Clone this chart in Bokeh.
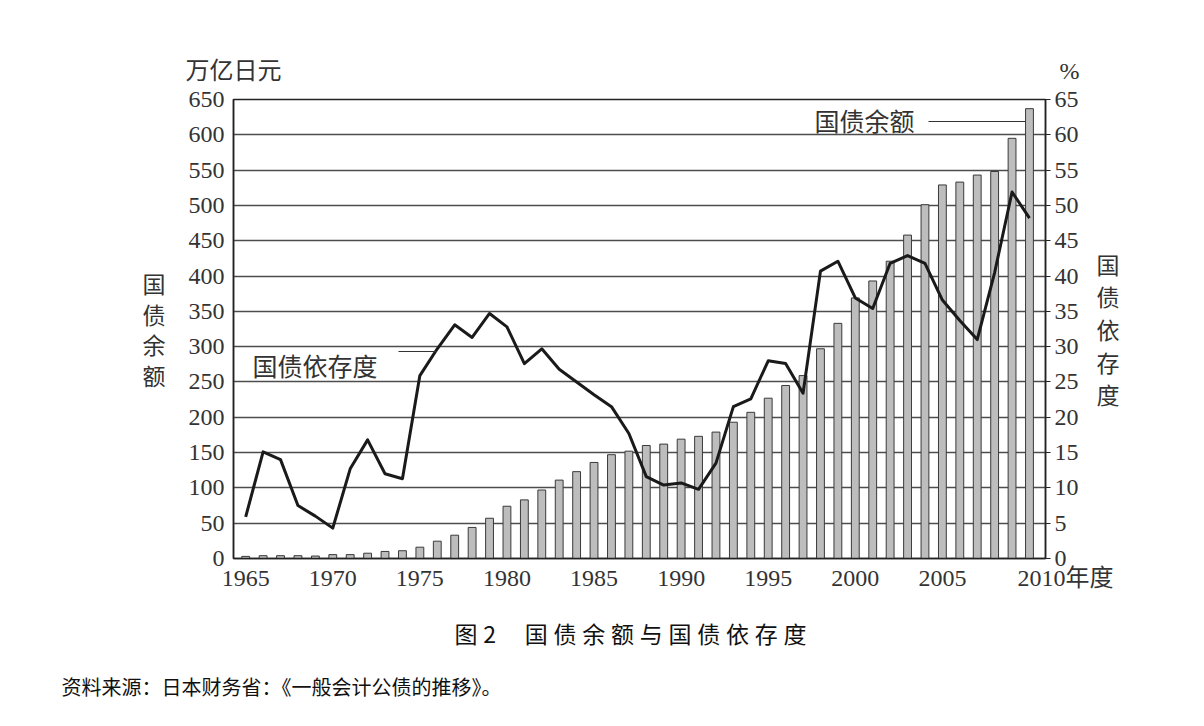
from bokeh.plotting import figure
from bokeh.models import Range1d, LinearAxis, FixedTicker, Label, Title
from bokeh.embed import file_html
from bokeh.resources import INLINE

# ---------------- data ----------------
years = list(range(1965, 2011))
debt_outstanding = [  # 国债余额 (万亿日元)
    3, 4, 4, 4, 3.5, 5.5, 5.5, 7.5, 10, 11,
    16, 24.5, 33, 44, 57, 74, 83, 97, 111, 123,
    136, 147, 152, 160, 162, 169, 173, 179, 193, 207,
    227, 245, 259, 297, 333, 369, 393, 421, 458, 501,
    529, 533, 543, 548, 595, 637,
]
dependency_ratio = [  # 国债依存度 (%)
    5.9, 15.1, 14.0, 7.5, 6.0, 4.3, 12.7, 16.8, 12.0, 11.3,
    25.9, 29.7, 33.1, 31.3, 34.7, 32.8, 27.6, 29.7, 26.8, 25.0,
    23.2, 21.5, 17.7, 11.6, 10.4, 10.7, 9.8, 13.5, 21.5, 22.6,
    28.0, 27.6, 23.4, 40.7, 42.1, 36.9, 35.4, 41.8, 42.9, 41.8,
    36.6, 33.7, 31.0, 40.5, 51.9, 48.2,
]
left_ticks = list(range(0, 651, 50))
right_ticks = list(range(0, 66, 5))
x_ticks = list(range(1965, 2011, 5))

left_unit = "万亿日元"
right_unit = "%"
x_unit = "年度"
left_title = "国债余额"
right_title = "国债依存度"
caption_fig = "图"
caption_num = "2"
caption_text = "国债余额与国债依存度"
source_text = "资料来源：日本财务省：《一般会计公债的推移》。"

# ---------------- geometry helpers ----------------
W, H = 1204, 726
FL, FR, FT, FB = 233, 1045, 99, 558
X0, X1 = 1964.3, 2010.92
Y0, Y1 = 0, 650


def dx(px):
    return X0 + (px - FL) * (X1 - X0) / (FR - FL)


def dy(py):
    return Y0 + (FB - py) * (Y1 - Y0) / (FB - FT)


NUM_FONT = "Liberation Serif"
CJK_FONT = "Noto Sans CJK SC"
MIX_FONT = "Liberation Serif, Noto Sans CJK SC"
TXT = "#333333"
SP4 = "\u2005"   # four-per-em space
IDSP = "\u3000"  # ideographic space

p = figure(width=W, height=H, output_backend="svg", toolbar_location=None,
           x_range=Range1d(X0, X1), y_range=Range1d(Y0, Y1),
           min_border_left=FL, min_border_right=W - FR,
           min_border_top=FT, min_border_bottom=H - FB)
p.extra_y_ranges = {"pct": Range1d(0, 65)}
p.extra_x_ranges = {"edge": Range1d(-0.0001, 1.0001)}
p.background_fill_color = "white"
p.border_fill_color = "white"
p.outline_line_color = "#222222"
p.outline_line_width = 1.5

# bottom axis
xa = p.xaxis[0]
xa.ticker = FixedTicker(ticks=x_ticks)
xa.major_label_overrides = {2010: IDSP * 3 + "2010" + x_unit}
# left axis
ya = p.yaxis[0]
ya.ticker = FixedTicker(ticks=left_ticks)
ya.axis_label = "\n".join(left_title)
ya.axis_label_orientation = "horizontal"
ya.axis_label_standoff = 20
ya.axis_label_text_font_style = "normal"
ya.axis_label_text_line_height = 0.91

for ax in (xa, ya):
    ax.axis_line_color = "#222222"
    ax.axis_line_width = 1.5
    ax.major_tick_out = 0
    ax.major_tick_in = 0
    ax.minor_tick_line_color = None
    ax.major_label_text_font = MIX_FONT
    ax.major_label_text_font_size = "24px"
    ax.major_label_text_color = TXT
ya.major_label_standoff = 9
xa.major_label_standoff = 6

# right axis
rax = LinearAxis(y_range_name="pct", ticker=FixedTicker(ticks=right_ticks))
rax.axis_line_color = "#222222"
rax.axis_line_width = 1.5
rax.major_tick_out = 5
rax.major_tick_in = 0
rax.major_tick_line_color = "#222222"
rax.minor_tick_line_color = None
rax.major_label_text_font = NUM_FONT
rax.major_label_text_font_size = "24px"
rax.major_label_text_color = TXT
rax.major_label_standoff = 4
rax.axis_label = "\n".join(right_title)
rax.axis_label_orientation = "horizontal"
rax.axis_label_standoff = 15
rax.axis_label_text_font_style = "normal"
rax.axis_label_text_line_height = 0.96
p.add_layout(rax, "right")

for ax in (ya, rax):
    ax.axis_label_text_font = CJK_FONT
    ax.axis_label_text_font_size = "23px"
    ax.axis_label_text_color = TXT

# top "axis" carrying the unit captions at both frame edges
tax = LinearAxis(x_range_name="edge", ticker=FixedTicker(ticks=[0, 1]))
tax.major_label_overrides = {0: left_unit, 1: IDSP + IDSP + right_unit}
tax.axis_line_color = None
tax.major_tick_line_color = None
tax.minor_tick_line_color = None
tax.major_label_text_font = MIX_FONT
tax.major_label_text_font_size = "24px"
tax.major_label_text_color = TXT
tax.major_label_standoff = 10
p.add_layout(tax, "above")

p.xgrid.grid_line_color = None
p.ygrid.ticker = FixedTicker(ticks=left_ticks)
p.ygrid.grid_line_color = "#4d4d4d"
p.ygrid.grid_line_width = 1.5

# bars and line
p.vbar(x=years, top=debt_outstanding, width=0.45, bottom=0,
       fill_color="#bdbdbd", line_color="#3a3a3a", line_width=1)
p.line(x=years, y=dependency_ratio, y_range_name="pct",
       line_color="#1a1a1a", line_width=3, line_join="round")

# in-plot annotations with leader lines
for txt, px, py in ((left_title, 814, 119), (right_title, 252, 364)):
    p.add_layout(Label(x=dx(px), y=dy(py), text=txt, text_font=CJK_FONT,
                       text_font_size="25px", text_align="left",
                       text_baseline="middle", text_color=TXT))
p.segment(x0=[dx(928)], y0=[dy(121)], x1=[dx(1025)], y1=[dy(121)],
          line_color="#333333", line_width=1.2)
p.segment(x0=[dx(398)], y0=[dy(351)], x1=[dx(436)], y1=[dy(351)],
          line_color="#333333", line_width=1.2)

# caption and source below the chart
cap = caption_fig + SP4 + caption_num + IDSP + SP4 + SP4.join(caption_text)
p.add_layout(Title(text=cap, align="left", offset=454 - FL,
                   text_font=CJK_FONT, text_font_size="23px",
                   text_font_style="normal", text_color="#111111",
                   vertical_align="bottom", standoff=40), "below")
p.add_layout(Title(text=source_text, align="left", offset=61 - FL,
                   text_font=CJK_FONT, text_font_size="20px",
                   text_font_style="normal", text_color="#111111",
                   vertical_align="top", standoff=4), "below")

open("out.html", "w").write(file_html(p, INLINE))
